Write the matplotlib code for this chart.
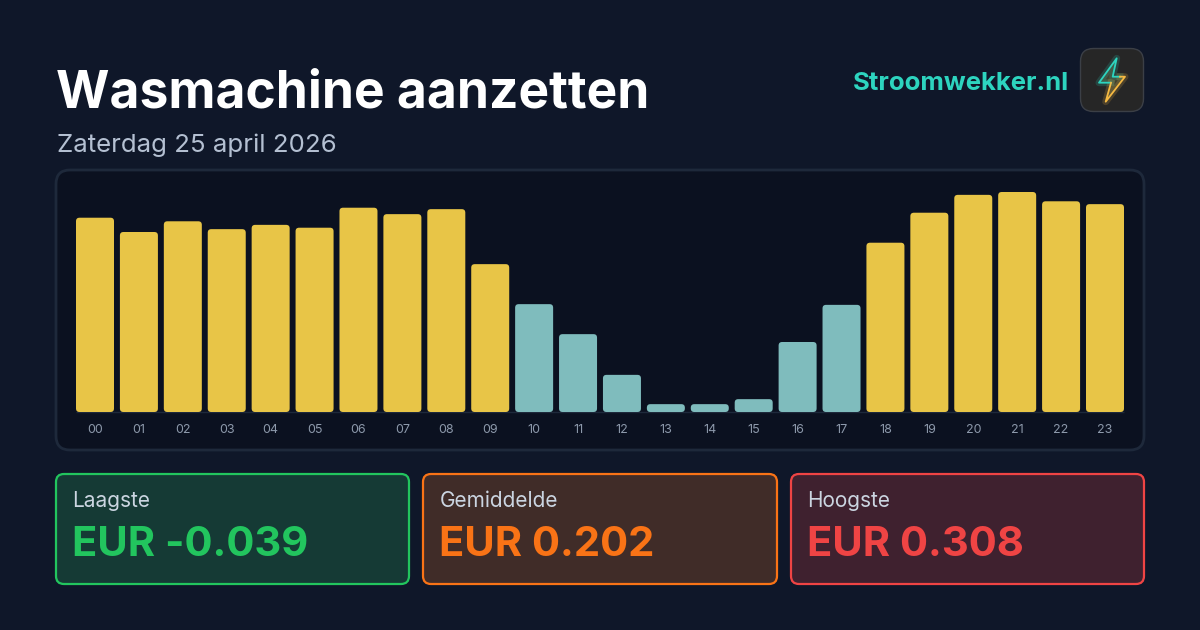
import matplotlib
matplotlib.use('Agg')
import matplotlib.pyplot as plt
from matplotlib.patches import FancyBboxPatch, Polygon

hours = ['00', '01', '02', '03', '04', '05', '06', '07', '08', '09', '10', '11',
         '12', '13', '14', '15', '16', '17', '18', '19', '20', '21', '22', '23']
prices = [0.272, 0.252, 0.267, 0.256, 0.262, 0.258, 0.286, 0.277, 0.284, 0.207, 0.151, 0.109,
          0.052, 0.011, 0.011, 0.018, 0.098, 0.150, 0.237, 0.279, 0.304, 0.308, 0.295, 0.291]
cheap_hours = ['10', '11', '12', '13', '14', '15', '16', '17']

card_labels = ['Laagste', 'Gemiddelde', 'Hoogste']
card_values = ['EUR -0.039', 'EUR 0.202', 'EUR 0.308']

plt.rcParams['font.family'] = ['Inter', 'DejaVu Sans']

BG = '#0f1729'
W, H = 1200, 630
fig = plt.figure(figsize=(W / 100, H / 100), dpi=100, facecolor=BG)

# overlay in pixel coordinates for everything around the chart
page = fig.add_axes([0, 0, 1, 1])
page.set_xlim(0, W)
page.set_ylim(H, 0)
page.axis('off')


def rbox(x0, y0, x1, y1, r, fc, ec='none', lw=1.0, z=1):
    p = FancyBboxPatch((x0, y0), x1 - x0, y1 - y0, boxstyle=f'round,pad=0,rounding_size={r}',
                       fc=fc, ec=ec, lw=lw, zorder=z)
    page.add_patch(p)


page.text(56, 94, 'Wasmachine aanzetten', color='white', fontsize=37.1, fontweight='bold',
          va='center', ha='left')
page.text(57, 145, 'Zaterdag 25 april 2026', color='#b4c0d2', fontsize=18.6, va='center', ha='left')
page.text(1069, 83, 'Stroomwekker.nl', color='#2dd4bf', fontsize=18.5, fontweight='bold',
          va='center', ha='right')

# logo
rbox(1080.5, 48.5, 1143.5, 111.5, 13, '#262626', ec='#3b3f46', lw=1.0)
bolt = [(1116.7, 58.3), (1099, 82.7), (1111, 82.7), (1105.7, 101.7), (1125, 76.7), (1112.7, 76.7)]
teal = [(1111, 82.7), (1099, 82.7), (1116.7, 58.3), (1112.7, 76.7), (1120, 76.7)]
amber = [(1120, 76.7), (1125, 76.7), (1105.7, 101.7), (1111, 82.7)]
page.add_patch(Polygon(bolt, closed=True, fc='#5a5a3a', ec='none', alpha=0.55, zorder=2))
for seg, col in [(teal, '#2dd4bf'), (amber, '#f5b942')]:
    xs, ys = zip(*seg)
    page.plot(xs, ys, color=col, lw=5, alpha=0.18, solid_joinstyle='round', zorder=2)
    page.plot(xs, ys, color=col, lw=1.3, solid_joinstyle='round', zorder=3)

# chart panel
rbox(56, 170, 1144, 450, 14, '#0b1120', ec='#1e293b', lw=2)

chart = fig.add_axes([0, 0, 1, 1], facecolor='none')
x_first, x_last = 95, 1105
pitch = (x_last - x_first) / 23
base_px, top_px = 412, 192
px_per_eur = (base_px - top_px) / max(prices)
# axes placed over the panel, data units are hours and EUR
left_px, right_px = 60, 1140
bottom_px, upper_px = 414, 175
chart.set_position([left_px / W, 1 - bottom_px / H, (right_px - left_px) / W, (bottom_px - upper_px) / H])
chart.set_xlim((left_px - x_first) / pitch, (right_px - x_first) / pitch)
chart.set_ylim((base_px - bottom_px) / px_per_eur, (base_px - upper_px) / px_per_eur)
for s in chart.spines.values():
    s.set_visible(False)
bar_w = 38 / pitch
aspect = pitch / px_per_eur
for i, (h, p) in enumerate(zip(hours, prices)):
    color = '#7fbcbd' if h in cheap_hours else '#e8c547'
    chart.add_patch(FancyBboxPatch((i - bar_w / 2, 0), bar_w, p,
                                   boxstyle=f'round,pad=0,rounding_size={3.5 / pitch}',
                                   mutation_aspect=aspect, fc=color, ec='none', zorder=3))
chart.hlines(0, -bar_w / 2, 23 + bar_w / 2, color='#1e293b', lw=1, zorder=2)
chart.set_xticks(range(len(hours)))
chart.set_xticklabels(hours, color='#8d99ab', fontsize=9)
chart.tick_params(axis='x', length=0, pad=7.5)
chart.set_yticks([])

# stat cards
cards = [(56, 409, '#22c55e', '#153a35'), (423, 777, '#f97316', '#402c28'), (791, 1144, '#ef4444', '#3f212f')]
for (x0, x1, col, fill), lab, val in zip(cards, card_labels, card_values):
    rbox(x0, 474, x1, 584, 8, fill, ec=col, lw=1.6)
    page.text(x0 + 16.5, 501, lab, color='#cbd5e1', fontsize=15, va='center', ha='left', zorder=4)
    page.text(x0 + 16, 545, val, color=col, fontsize=30, fontweight='bold', va='center', ha='left', zorder=4)

fig.savefig('out.png', dpi=100, facecolor=BG)
